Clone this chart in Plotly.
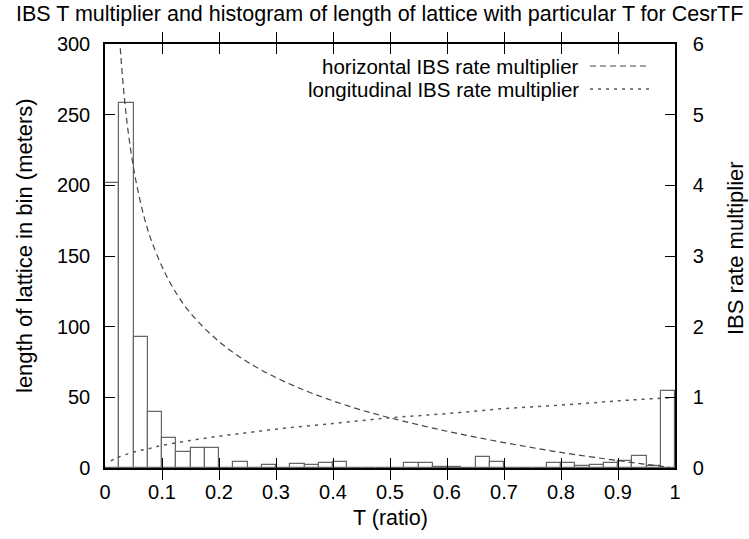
import plotly.graph_objects as go

# ---- data ----
bin_width = 0.025
bin_centers = [0.0125 + 0.025 * k for k in range(40)]
bin_lengths = [202, 258, 92.5, 39.3, 20.9, 11.5, 14.1, 14.1, 0, 4.5,
               0, 1.8, 0, 2.8, 2.1, 3.5, 4.5, 0, 0, 0,
               0, 3.7, 3.7, 0.5, 1.0, 0, 7.5, 4.0, 0, 0,
               0, 3.5, 3.6, 1.2, 2.3, 3.3, 5.0, 8.8, 1.3, 54.2]

horiz_T = [0.02, 0.026, 0.03, 0.035, 0.04, 0.05, 0.06, 0.07, 0.08, 0.1, 0.12, 0.15,
           0.2, 0.25, 0.3, 0.35, 0.4, 0.45, 0.5, 0.6, 0.7, 0.8, 0.9, 0.95, 0.99]
horiz_mult = [6.93, 6.04, 5.6, 5.16, 4.8, 4.25, 3.84, 3.51, 3.25, 2.85, 2.54, 2.19,
              1.79, 1.5, 1.28, 1.10, 0.95, 0.82, 0.71, 0.52, 0.36, 0.22, 0.105, 0.051, 0.01]

long_T = [0.01, 0.02, 0.04, 0.06, 0.08, 0.1, 0.15, 0.2, 0.25, 0.3, 0.4, 0.5,
          0.6, 0.7, 0.8, 0.9, 0.99]
long_mult = [0.1, 0.14, 0.2, 0.245, 0.28, 0.32, 0.39, 0.45, 0.5, 0.55, 0.63, 0.71,
             0.77, 0.84, 0.89, 0.95, 0.995]

x_ticks = [0, 0.1, 0.2, 0.3, 0.4, 0.5, 0.6, 0.7, 0.8, 0.9, 1]
x_tick_labels = ["0", "0.1", "0.2", "0.3", "0.4", "0.5", "0.6", "0.7", "0.8", "0.9", "1"]
y_ticks = [0, 50, 100, 150, 200, 250, 300]
y2_ticks = [0, 1, 2, 3, 4, 5, 6]

title = "IBS T multiplier and histogram of length of lattice with particular T for CesrTF"
legend_names = ["horizontal IBS rate multiplier", "longitudinal IBS rate multiplier"]

FONT = "Liberation Sans, Arial, sans-serif"
FS = 20      # tick labels
FT = 21.5    # texts
FL = 20.5    # legend texts

fig = go.Figure()
fig.add_trace(go.Bar(x=bin_centers, y=bin_lengths, width=bin_width,
                     marker=dict(color="rgba(0,0,0,0)", line=dict(color="#666666", width=1.2)),
                     showlegend=False))
fig.add_trace(go.Scatter(x=horiz_T, y=horiz_mult, yaxis="y2", mode="lines",
                         line=dict(color="#444444", width=1.2, dash="6px,4px", shape="spline"),
                         showlegend=False))
fig.add_trace(go.Scatter(x=long_T, y=long_mult, yaxis="y2", mode="lines",
                         line=dict(color="#555555", width=1.5, dash="3px,5px", shape="spline"),
                         showlegend=False))

axis_common = dict(showgrid=False, zeroline=False, ticks="inside", ticklen=10,
                   tickcolor="black", tickwidth=1, showline=True, linecolor="black",
                   linewidth=1.5, tickfont=dict(family=FONT, size=FS, color="black"))

fig.update_layout(
    width=749, height=539,
    margin=dict(l=105, r=74, t=44, b=71),
    plot_bgcolor="white", paper_bgcolor="white",
    bargap=0,
    font=dict(family=FONT, size=FS, color="black"),
    xaxis=dict(range=[0, 1], tickvals=x_ticks, ticktext=x_tick_labels, mirror="allticks",
               ticklabelstandoff=5, **axis_common),
    yaxis=dict(range=[0, 300], tickvals=y_ticks, mirror=True, ticklabelstandoff=9,
               **axis_common),
    yaxis2=dict(range=[0, 6], tickvals=y2_ticks, overlaying="y", side="right",
                ticklabelstandoff=12, **axis_common),
    showlegend=False,
)

ann = [
    dict(text=title, x=(379 - 105) / 570, y=(468 - 14) / 424, xref="paper", yref="paper",
         showarrow=False, font=dict(size=FT), xanchor="center", yanchor="middle"),
    dict(text="T (ratio)", x=0.5, y=(468 - 518) / 424, xref="paper", yref="paper",
         showarrow=False, font=dict(size=FT), xanchor="center", yanchor="middle"),
    dict(text="length of lattice in bin (meters)", x=(25 - 105) / 570, y=(468 - 246) / 424,
         xref="paper", yref="paper",
         showarrow=False, font=dict(size=22), textangle=-90, xanchor="center", yanchor="middle"),
    dict(text="IBS rate multiplier", x=(735 - 105) / 570, y=(468 - 248) / 424,
         xref="paper", yref="paper",
         showarrow=False, font=dict(size=22), textangle=-90, xanchor="center", yanchor="middle"),
]
leg_y = [(468 - 66) / 424, (468 - 89) / 424]
x_text_end = (580 - 105) / 570
for name, yy in zip(legend_names, leg_y):
    ann.append(dict(text=name, x=x_text_end, y=yy, xref="paper", yref="paper", showarrow=False,
                    font=dict(size=FL), xanchor="right", yanchor="middle", borderpad=0))
fig.update_layout(annotations=ann)

x0 = (590 - 105) / 570
x1 = (650 - 105) / 570
fig.add_shape(type="line", xref="paper", yref="paper", x0=x0, x1=x1, y0=leg_y[0], y1=leg_y[0],
              line=dict(color="#444444", width=1.2, dash="6px,4px"))
fig.add_shape(type="line", xref="paper", yref="paper", x0=x0, x1=x1, y0=leg_y[1], y1=leg_y[1],
              line=dict(color="#555555", width=1.5, dash="3px,5px"))

fig.write_html("out.html")
